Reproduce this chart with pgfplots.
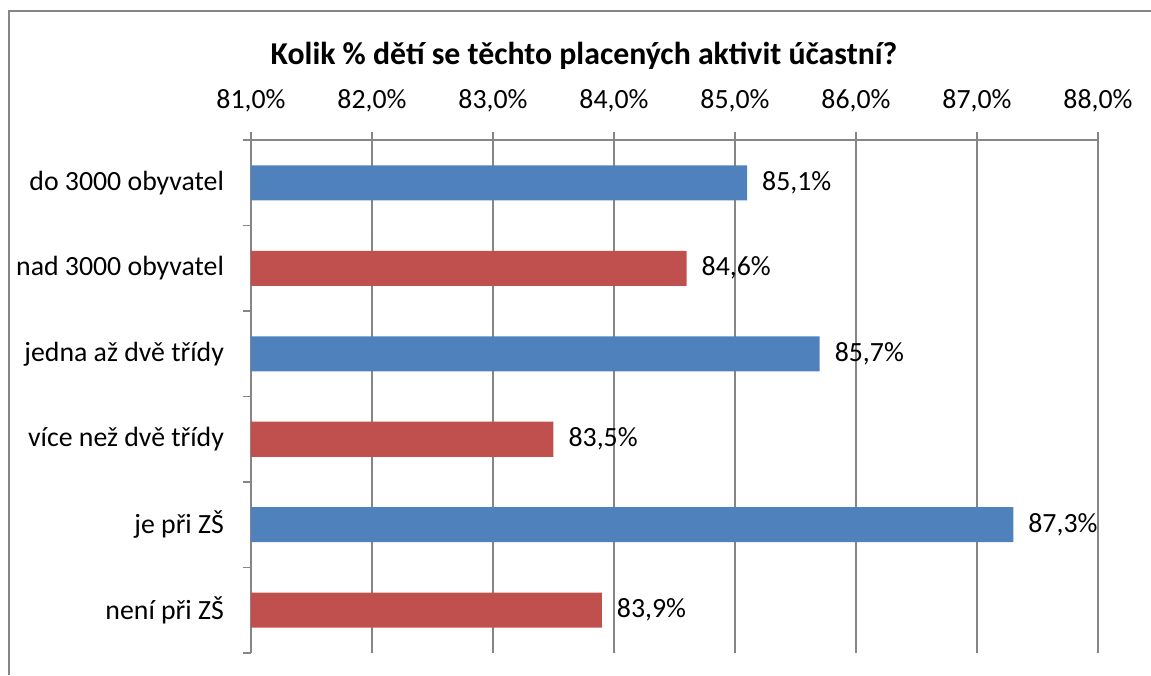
\documentclass[border=0pt]{standalone}
\usepackage{fontspec}
\setmainfont{Carlito}
\usepackage{pgfplots}
\pgfplotsset{compat=1.18}
\definecolor{barblue}{HTML}{4F81BD}
\definecolor{barred}{HTML}{C0504D}
\definecolor{gridgray}{HTML}{868686}
\begin{document}
\begin{tikzpicture}
\begin{axis}[
  scale only axis, width=423.5pt, height=256.5pt,
  xmin=81, xmax=88, xtick={81,82,...,88},
  ymin=-0.5, ymax=5.5, y dir=reverse,
  axis x line*=top, axis y line*=left,
  axis line style={gridgray, line width=0.8pt},
  xmajorgrids, grid style={gridgray, line width=0.8pt},
  tick align=center, major tick length=8pt,
  tick style={gridgray, line width=0.8pt},
  xticklabel={\pgfmathprintnumber[fixed,fixed zerofill,precision=1,use comma,assume math mode=true]{\tick}\%},
  xticklabel style={font=\fontsize{13.9}{16}\selectfont, yshift=6.5pt},
  ytick={0,1,2,3,4,5},
  yticklabels={do 3000 obyvatel, nad 3000 obyvatel, jedna až dvě třídy, více než dvě třídy, je při ZŠ, není při ZŠ},
  yticklabel style={font=\fontsize{13.9}{16}\selectfont, anchor=east, xshift=-2pt},
  ytick style={draw=none},
  minor ytick={-0.5,0.5,...,5.5},
  minor tick length=4pt,
  minor y tick style={draw=gridgray, line width=0.8pt},
  xbar, bar width=17.5pt, bar shift=0pt,
  point meta=x,
  nodes near coords={\pgfmathprintnumber[fixed,fixed zerofill,precision=1,use comma,assume math mode=true]{\pgfplotspointmeta}\%},
  nodes near coords style={font=\fontsize{13.9}{16}\selectfont, anchor=west, xshift=4pt, text=black},
]
\addplot[fill=barblue, draw=none] coordinates {(85.1,0) (85.7,2) (87.3,4)};
\addplot[fill=barred, draw=none] coordinates {(84.6,1) (83.5,3) (83.9,5)};
\coordinate (tl) at (rel axis cs:0,1);
\end{axis}
\begin{scope}[shift={(tl)}]
\draw[gridgray,line width=0.75pt] (-121pt,-267.5pt) -- (-121pt,64.5pt) -- (450pt,64.5pt);
\node[font=\fontsize{15.9}{18}\selectfont\bfseries] at (166.5pt,42pt) {Kolik \% dětí se těchto placených aktivit účastní?};
\pgfresetboundingbox
\path[use as bounding box] (-125.5pt,70pt) rectangle (450pt,-267.5pt);
\end{scope}
\end{tikzpicture}
\end{document}
